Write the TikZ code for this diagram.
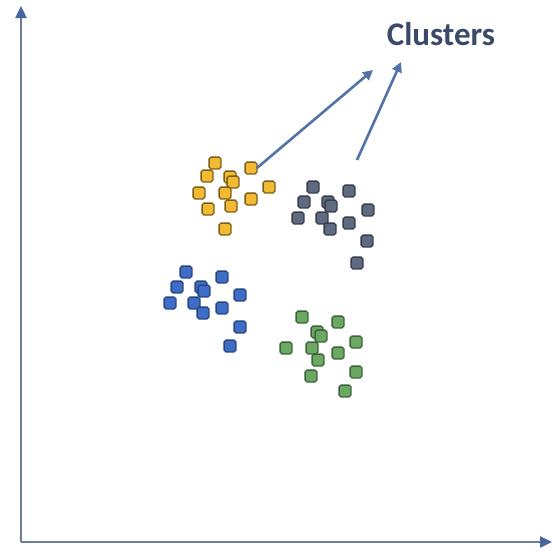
\documentclass[tikz,border=0pt]{standalone}
\usepackage{fontspec}
\setmainfont{Carlito}
\usetikzlibrary{arrows.meta}
\definecolor{axisc}{HTML}{6F7E93}
\definecolor{tipc}{HTML}{4565A0}
\definecolor{arrc}{HTML}{5272A8}
\definecolor{txtc}{HTML}{3B4A68}
\definecolor{yfill}{HTML}{F2BA32}
\definecolor{ydraw}{HTML}{7A5E18}
\definecolor{gfill}{HTML}{5E6A80}
\definecolor{gdraw}{HTML}{363D4C}
\definecolor{bfill}{HTML}{3E6CC6}
\definecolor{bdraw}{HTML}{28467E}
\definecolor{nfill}{HTML}{6BA862}
\definecolor{ndraw}{HTML}{3B623A}
\tikzset{
  sq/.style={draw=#1draw, fill=#1fill, line width=1.3pt, rounded corners=1.8pt,
    minimum size=11.8pt, inner sep=0pt, outer sep=0pt},
  axis/.style={draw=axisc, line width=2.4pt, -{Triangle[length=12pt,width=11pt,color=tipc]}},
  pointer/.style={draw=arrc, line width=2.6pt, -{Triangle[length=10pt,width=10pt]}},
  label/.style={font=\fontsize{33}{36}\selectfont\bfseries, text=txtc, inner sep=0pt}
}
\begin{document}
\begin{tikzpicture}[x=1pt,y=-1pt]
\useasboundingbox[fill=white] (0,0) rectangle (552,552);
% axes
\coordinate (O) at (21,542);
\coordinate (ytip) at (21,6);
\coordinate (xtip) at (552,542);
\draw[axis] (O) -- (ytip);
\draw[axis] (O) -- (xtip);
% clusters
\foreach \x/\y [count=\i] in {215/163,251/168,207/176,230/177,233/182,269/187,199/193,225/193,251/199,208/209,231/206,225/229}
  \node[sq=y] (y\i) at (\x,\y) {};
\foreach \x/\y [count=\i] in {313/187,349/191,304/202,328/202,331/206,368/210,298/218,322/218,349/223,330/229,367/241,357/263}
  \node[sq=g] (g\i) at (\x,\y) {};
\foreach \x/\y [count=\i] in {186/272,222/277,177/287,201/287,204/291,240/295,170/303,194/303,222/308,203/313,240/327,230/346}
  \node[sq=b] (b\i) at (\x,\y) {};
\foreach \x/\y [count=\i] in {302/317,338/322,317/332,321/336,356/342,286/348,312/348,338/353,318/360,311/376,356/372,345/391}
  \node[sq=n] (n\i) at (\x,\y) {};
% label and pointers
\node[label, anchor=base] (lbl) at (441,45) {Clusters};
\coordinate (t1) at (373,70);
\coordinate (s2) at (357,160);
\coordinate (t2) at (401,62);
\draw[pointer] (y2.east) -- (t1);
\draw[pointer] (s2) -- (t2);
\end{tikzpicture}
\end{document}
